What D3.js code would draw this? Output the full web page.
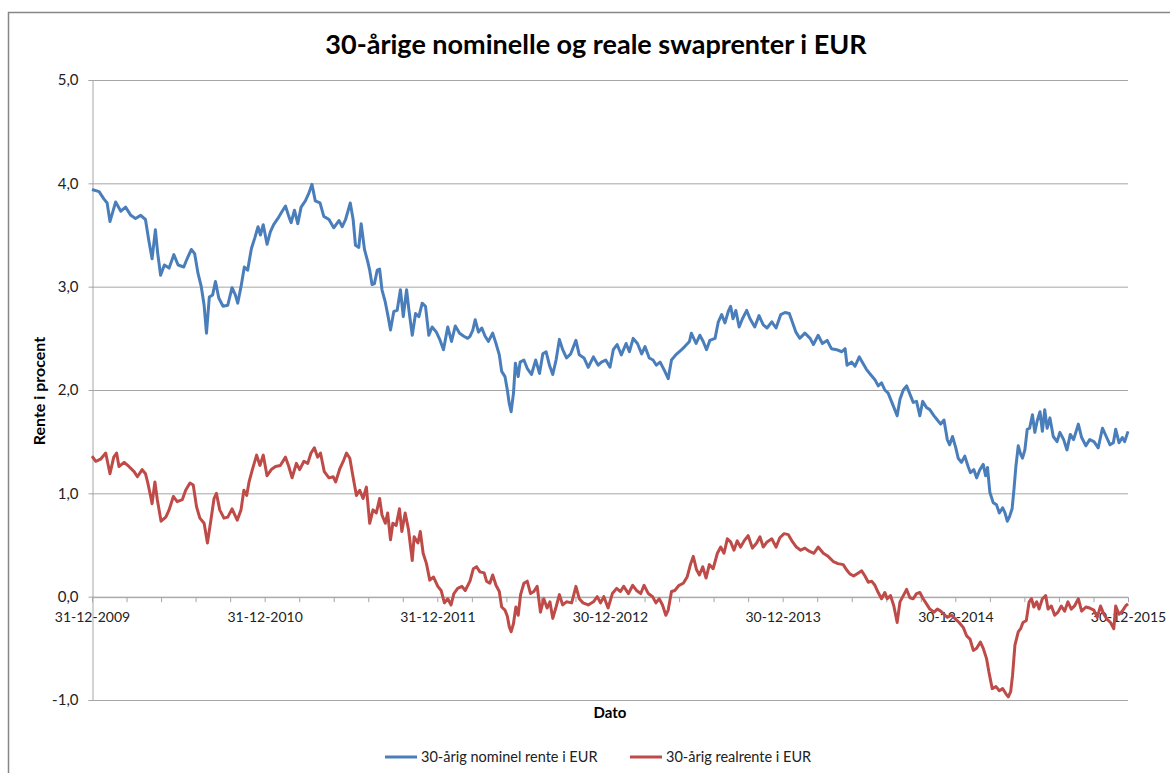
<!DOCTYPE html>
<html>
<head>
<meta charset="utf-8">
<script src="https://cdn.jsdelivr.net/npm/d3@7"></script>
<style>
  body { margin: 0; background: #fff; }
  svg { font-family: Lato, "Open Sans", sans-serif; }
</style>
</head>
<body>
<svg width="1170" height="773"></svg>
<script>
// day offsets counted from 31-12-2009
let nominalDays = [0, 15, 25, 32, 38, 50, 61, 71, 82, 92, 103, 113, 120, 127, 134, 139, 145, 153, 163, 173,
  182, 194, 201, 210, 217, 224, 231, 237, 242, 248, 255, 261, 268, 277, 287, 296, 303, 308, 315, 322,
  329, 337, 344, 351, 356, 362, 370, 377, 384, 393, 402, 409, 416, 421, 428, 435, 442, 451, 458, 465,
  472, 482, 490, 501, 511, 522, 529, 536, 541, 546, 552, 557, 564, 569, 576, 583, 587, 592, 597, 603,
  608, 613, 620, 626, 631, 638, 645, 652, 658, 665, 670, 677, 684, 691, 698, 705, 712, 719, 728, 736,
  743, 752, 760, 768, 777, 786, 794, 799, 805, 810, 817, 824, 831, 838, 847, 854, 861, 866, 873, 878,
  882, 886, 891, 895, 901, 905, 913, 920, 929, 938, 946, 953, 960, 967, 974, 981, 988, 995, 1003, 1012,
  1023, 1030, 1040, 1049, 1060, 1070, 1077, 1086, 1095, 1102, 1110, 1119, 1129, 1136, 1144, 1153, 1162, 1169, 1178, 1186,
  1193, 1201, 1211, 1218, 1225, 1234, 1244, 1253, 1263, 1267, 1277, 1285, 1292, 1299, 1306, 1317, 1324, 1331, 1338, 1345,
  1350, 1355, 1361, 1368, 1375, 1384, 1391, 1401, 1410, 1419, 1427, 1437, 1446, 1456, 1465, 1474, 1481, 1488, 1496, 1507,
  1518, 1525, 1535, 1544, 1554, 1563, 1574, 1585, 1592, 1596, 1606, 1613, 1622, 1637, 1644, 1655, 1662, 1669, 1676, 1683,
  1690, 1697, 1702, 1708, 1715, 1722, 1729, 1736, 1743, 1750, 1756, 1764, 1771, 1780, 1787, 1794, 1801, 1808, 1813, 1819,
  1826, 1831, 1838, 1845, 1852, 1857, 1864, 1870, 1877, 1884, 1889, 1893, 1898, 1905, 1912, 1918, 1925, 1930, 1935, 1940,
  1945, 1949, 1953, 1958, 1963, 1967, 1972, 1977, 1982, 1988, 1993, 1998, 2004, 2009, 2014, 2019, 2025, 2032, 2040, 2046,
  2054, 2061, 2068, 2075, 2085, 2092, 2101, 2109, 2118, 2127, 2136, 2144, 2152, 2159, 2164, 2171, 2178, 2183, 2190]

let nominalRates = [3.94, 3.92, 3.85, 3.81, 3.63, 3.82, 3.73, 3.77, 3.69, 3.66, 3.69, 3.65, 3.45, 3.27, 3.55, 3.32, 3.11, 3.21, 3.18, 3.31,
  3.21, 3.19, 3.27, 3.36, 3.32, 3.13, 3.00, 2.82, 2.55, 2.90, 2.92, 3.05, 2.89, 2.81, 2.82, 2.99, 2.92, 2.84, 3.00, 3.19,
  3.16, 3.37, 3.47, 3.58, 3.50, 3.60, 3.41, 3.53, 3.60, 3.66, 3.73, 3.78, 3.68, 3.62, 3.74, 3.61, 3.77, 3.83, 3.90, 3.99,
  3.83, 3.81, 3.68, 3.65, 3.57, 3.64, 3.58, 3.65, 3.73, 3.81, 3.65, 3.40, 3.38, 3.61, 3.36, 3.24, 3.16, 3.02, 3.03, 3.16,
  3.17, 2.97, 2.85, 2.71, 2.58, 2.76, 2.77, 2.97, 2.71, 2.97, 2.77, 2.53, 2.74, 2.71, 2.84, 2.81, 2.53, 2.61, 2.56, 2.48,
  2.39, 2.61, 2.47, 2.62, 2.55, 2.52, 2.50, 2.52, 2.58, 2.68, 2.56, 2.60, 2.52, 2.47, 2.55, 2.45, 2.34, 2.18, 2.13, 2.00,
  1.87, 1.79, 1.97, 2.26, 2.13, 2.27, 2.29, 2.21, 2.15, 2.29, 2.16, 2.35, 2.37, 2.24, 2.15, 2.29, 2.49, 2.39, 2.31, 2.35,
  2.48, 2.34, 2.31, 2.22, 2.32, 2.24, 2.27, 2.29, 2.22, 2.39, 2.44, 2.34, 2.45, 2.37, 2.50, 2.45, 2.35, 2.42, 2.31, 2.29,
  2.24, 2.27, 2.18, 2.11, 2.29, 2.34, 2.38, 2.42, 2.47, 2.55, 2.45, 2.53, 2.47, 2.39, 2.48, 2.50, 2.66, 2.73, 2.65, 2.76,
  2.81, 2.69, 2.77, 2.61, 2.69, 2.77, 2.69, 2.61, 2.72, 2.63, 2.60, 2.66, 2.60, 2.73, 2.75, 2.74, 2.65, 2.56, 2.50, 2.55,
  2.50, 2.44, 2.53, 2.45, 2.48, 2.40, 2.39, 2.37, 2.40, 2.24, 2.27, 2.23, 2.32, 2.20, 2.16, 2.10, 2.04, 2.07, 2.00, 1.97,
  1.89, 1.81, 1.75, 1.91, 2.00, 2.04, 1.96, 1.88, 1.89, 1.75, 1.89, 1.83, 1.81, 1.75, 1.71, 1.67, 1.71, 1.52, 1.47, 1.55,
  1.44, 1.34, 1.30, 1.36, 1.26, 1.20, 1.23, 1.15, 1.23, 1.28, 1.17, 1.25, 1.01, 0.91, 0.89, 0.81, 0.86, 0.81, 0.73, 0.78,
  0.85, 1.04, 1.26, 1.46, 1.38, 1.34, 1.42, 1.62, 1.63, 1.76, 1.59, 1.70, 1.79, 1.60, 1.81, 1.63, 1.73, 1.55, 1.50, 1.59,
  1.52, 1.42, 1.57, 1.52, 1.67, 1.54, 1.46, 1.52, 1.50, 1.44, 1.63, 1.55, 1.47, 1.49, 1.62, 1.49, 1.54, 1.50, 1.60]

let realDays = [0, 8, 18, 29, 38, 46, 52, 57, 68, 78, 89, 96, 106, 113, 118, 124, 127, 133, 138, 146,
  156, 163, 172, 180, 191, 198, 207, 214, 221, 228, 237, 244, 251, 258, 263, 270, 279, 287, 296, 307,
  315, 321, 327, 332, 339, 348, 355, 362, 370, 379, 388, 398, 409, 416, 423, 432, 439, 448, 456, 463,
  470, 477, 483, 491, 501, 510, 515, 524, 532, 538, 545, 553, 559, 566, 573, 580, 587, 594, 601, 608,
  613, 620, 625, 631, 636, 643, 650, 655, 662, 669, 677, 681, 689, 694, 700, 707, 714, 722, 731, 738,
  745, 752, 759, 765, 773, 782, 789, 799, 806, 813, 820, 829, 834, 841, 847, 854, 861, 866, 873, 878,
  882, 886, 891, 896, 901, 906, 913, 920, 927, 934, 941, 948, 955, 962, 968, 974, 981, 988, 995, 1003,
  1014, 1023, 1030, 1038, 1049, 1060, 1068, 1075, 1082, 1091, 1100, 1109, 1117, 1124, 1134, 1143, 1151, 1160, 1167, 1176,
  1185, 1192, 1199, 1206, 1213, 1218, 1225, 1232, 1241, 1250, 1258, 1265, 1271, 1278, 1284, 1291, 1298, 1305, 1313, 1322,
  1329, 1336, 1343, 1350, 1357, 1364, 1371, 1380, 1387, 1396, 1405, 1412, 1419, 1427, 1437, 1446, 1454, 1463, 1472, 1481,
  1489, 1498, 1507, 1516, 1526, 1535, 1546, 1556, 1567, 1577, 1588, 1595, 1602, 1610, 1620, 1627, 1634, 1641, 1648, 1655,
  1662, 1669, 1676, 1681, 1688, 1695, 1702, 1708, 1715, 1722, 1729, 1736, 1743, 1750, 1757, 1764, 1771, 1780, 1787, 1794,
  1801, 1808, 1817, 1826, 1833, 1842, 1849, 1856, 1863, 1870, 1878, 1884, 1891, 1896, 1903, 1911, 1918, 1925, 1932, 1937,
  1942, 1946, 1951, 1958, 1963, 1968, 1975, 1981, 1986, 1991, 1997, 2002, 2009, 2016, 2021, 2028, 2035, 2042, 2049, 2056,
  2063, 2070, 2077, 2085, 2092, 2101, 2109, 2118, 2125, 2132, 2139, 2146, 2153, 2160, 2164, 2171, 2178, 2185, 2190]

let realRates = [1.36, 1.31, 1.33, 1.39, 1.19, 1.35, 1.39, 1.26, 1.30, 1.26, 1.21, 1.16, 1.23, 1.19, 1.10, 0.97, 0.90, 1.11, 0.94, 0.73,
  0.77, 0.84, 0.97, 0.92, 0.94, 1.03, 1.10, 1.08, 0.87, 0.76, 0.71, 0.52, 0.73, 0.95, 1.00, 0.84, 0.76, 0.77, 0.85, 0.74,
  0.84, 1.03, 0.98, 1.11, 1.23, 1.37, 1.27, 1.37, 1.17, 1.23, 1.26, 1.27, 1.35, 1.26, 1.15, 1.29, 1.23, 1.31, 1.29, 1.39,
  1.44, 1.35, 1.39, 1.21, 1.15, 1.16, 1.11, 1.24, 1.32, 1.39, 1.34, 1.13, 0.98, 1.03, 0.95, 1.06, 0.71, 0.84, 0.81, 0.95,
  0.79, 0.71, 0.81, 0.55, 0.71, 0.69, 0.85, 0.63, 0.81, 0.65, 0.35, 0.58, 0.52, 0.63, 0.42, 0.32, 0.16, 0.19, 0.10, 0.06,
  -0.06, -0.02, -0.08, 0.03, 0.08, 0.10, 0.06, 0.15, 0.27, 0.29, 0.24, 0.23, 0.15, 0.13, 0.21, 0.11, 0.05, -0.10, -0.13, -0.19,
  -0.29, -0.34, -0.26, -0.10, -0.18, 0.02, 0.13, 0.15, 0.03, 0.05, 0.10, -0.15, -0.02, -0.11, -0.05, -0.21, -0.10, 0.02, -0.08, -0.05,
  -0.06, 0.10, -0.02, -0.06, -0.08, -0.05, 0.00, -0.06, 0.00, -0.11, 0.03, 0.08, 0.05, 0.10, 0.03, 0.11, 0.06, 0.03, 0.11, 0.03,
  0.00, -0.06, -0.02, -0.08, -0.18, -0.13, 0.05, 0.06, 0.11, 0.13, 0.19, 0.31, 0.39, 0.26, 0.21, 0.29, 0.18, 0.31, 0.27, 0.42,
  0.48, 0.42, 0.56, 0.53, 0.45, 0.54, 0.48, 0.55, 0.59, 0.47, 0.52, 0.58, 0.48, 0.53, 0.56, 0.48, 0.57, 0.61, 0.60, 0.53,
  0.48, 0.45, 0.47, 0.44, 0.42, 0.48, 0.42, 0.39, 0.34, 0.32, 0.31, 0.26, 0.22, 0.20, 0.23, 0.25, 0.20, 0.14, 0.15, 0.11,
  0.04, -0.02, 0.04, -0.02, 0.01, -0.09, -0.25, -0.05, 0.01, 0.07, -0.01, -0.02, 0.03, 0.04, -0.02, -0.07, -0.12, -0.15, -0.12, -0.14,
  -0.17, -0.20, -0.18, -0.22, -0.25, -0.30, -0.38, -0.41, -0.52, -0.50, -0.44, -0.50, -0.60, -0.73, -0.89, -0.87, -0.91, -0.89, -0.94, -0.97,
  -0.92, -0.76, -0.47, -0.34, -0.31, -0.25, -0.23, -0.05, -0.02, -0.10, -0.05, -0.12, -0.02, 0.01, -0.12, -0.09, -0.18, -0.15, -0.09, -0.14,
  -0.05, -0.12, -0.09, -0.02, -0.14, -0.10, -0.11, -0.13, -0.20, -0.09, -0.17, -0.22, -0.25, -0.31, -0.09, -0.17, -0.14, -0.09, -0.07]

let yTicks = [-1, 0, 1, 2, 3, 4, 5]
let seriesNames = ['30-årig nominel rente i EUR', '30-årig realrente i EUR']
let seriesColors = ['#4a7ebb', '#be4b48']

let start = new Date(2009, 11, 31)
let toDate = d => d3.timeDay.offset(start, d)

let nominal = nominalDays.map((d, i) => ({ date: toDate(d), value: nominalRates[i] }))
let real = realDays.map((d, i) => ({ date: toDate(d), value: realRates[i] }))

let svg = d3.select('svg')

// chart border
svg.append('rect')
    .attr('x', 8.5).attr('y', 12.5)
    .attr('width', 1180).attr('height', 780)
    .attr('fill', 'none').attr('stroke', '#868686').attr('stroke-width', 1.5)

let plotLeft = 92, plotRight = 1128, plotTop = 80, plotBottom = 700

let x = d3.scaleTime().domain([start, toDate(2190)]).range([plotLeft, plotRight])
let y = d3.scaleLinear().domain([-1, 5]).range([plotBottom, plotTop])

svg.append('text')
    .attr('x', 596).attr('y', 54)
    .attr('text-anchor', 'middle')
    .attr('font-size', 27).attr('font-weight', 'bold')
    .text('30-årige nominelle og reale swaprenter i EUR')

// gridlines
svg.append('g').selectAll('line')
    .data(yTicks)
    .enter()
    .append('line')
    .attr('x1', plotLeft).attr('x2', plotRight)
    .attr('y1', d => y(d) + 0.5).attr('y2', d => y(d) + 0.5)
    .attr('stroke', '#a6a6a6')

let fmt = d3.format('.1f')
let yAxis = svg.append('g')
    .attr('transform', `translate(${plotLeft + 0.5},0)`)
    .call(d3.axisLeft(y).tickValues(yTicks).tickSize(4).tickPadding(10)
        .tickFormat(d => fmt(d).replace('.', ',').replace('−', '-')))
yAxis.select('.domain').attr('stroke', '#a6a6a6')
yAxis.selectAll('.tick line').attr('stroke', '#a6a6a6')
yAxis.selectAll('text').attr('font-size', 15).attr('fill', '#222').style('font-family', 'Lato, sans-serif')

let tickDays = d3.range(0, 2191, 73)
let dateFmt = d3.timeFormat('%d-%m-%Y')
let xAxis = svg.append('g')
    .attr('transform', `translate(0,${y(0) + 0.5})`)
    .call(d3.axisBottom(x).tickValues(tickDays.map(toDate)).tickSize(5).tickPadding(10)
        .tickFormat((d, i) => tickDays[i] % 365 == 0 ? dateFmt(d) : ''))
xAxis.select('.domain').attr('stroke', '#a6a6a6')
xAxis.selectAll('.tick line').attr('stroke', '#a6a6a6')
xAxis.selectAll('text').attr('font-size', 14).attr('fill', '#222').style('font-family', 'Lato, sans-serif')

svg.append('text')
    .attr('transform', 'translate(45,391) rotate(-90)')
    .attr('text-anchor', 'middle')
    .attr('font-size', 16).attr('font-weight', 'bold')
    .text('Rente i procent')

svg.append('text')
    .attr('x', 610).attr('y', 718)
    .attr('text-anchor', 'middle')
    .attr('font-size', 15).attr('font-weight', 'bold')
    .text('Dato')

let line = d3.line().x(d => x(d.date)).y(d => y(d.value))

svg.selectAll('path.series')
    .data([nominal, real])
    .enter()
    .append('path')
    .attr('class', 'series')
    .attr('d', line)
    .attr('fill', 'none')
    .attr('stroke', (d, i) => seriesColors[i])
    .attr('stroke-width', 3)
    .attr('stroke-linejoin', 'round')

// legend
let legendX = [385, 630]
let legend = svg.append('g')
legend.selectAll('line')
    .data(seriesNames)
    .enter()
    .append('line')
    .attr('x1', (d, i) => legendX[i]).attr('x2', (d, i) => legendX[i] + 32)
    .attr('y1', 757).attr('y2', 757)
    .attr('stroke', (d, i) => seriesColors[i])
    .attr('stroke-width', 3)
legend.selectAll('text')
    .data(seriesNames)
    .enter()
    .append('text')
    .attr('x', (d, i) => legendX[i] + 36)
    .attr('y', 762)
    .attr('font-size', 14.5)
    .attr('fill', '#222')
    .text(d => d)
</script>
</body>
</html>
